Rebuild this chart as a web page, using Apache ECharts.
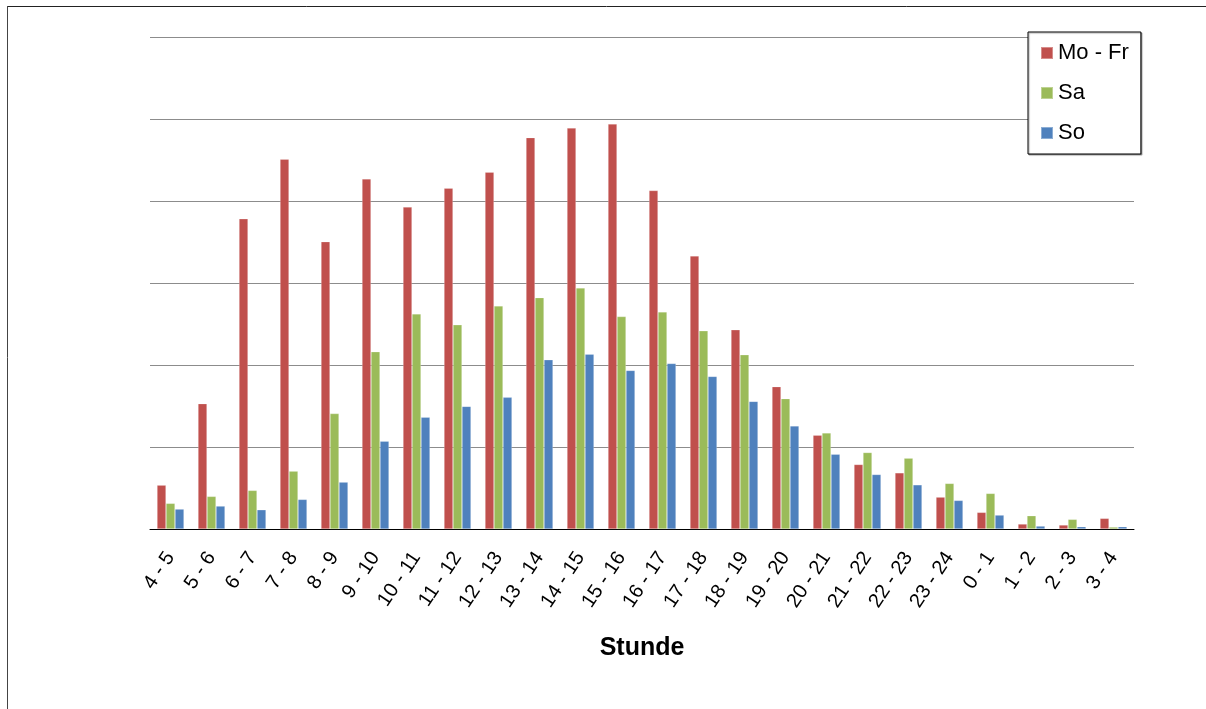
<!DOCTYPE html>
<html>
<head>
<meta charset="utf-8">
<script src="https://cdn.jsdelivr.net/npm/echarts@6/dist/echarts.min.js"></script>
<style>
html,body{margin:0;padding:0;background:#fff;}
#chart{width:1206px;height:709px;}
</style>
</head>
<body>
<div id="chart"></div>
<script>
const categories = ['4 - 5','5 - 6','6 - 7','7 - 8','8 - 9','9 - 10','10 - 11','11 - 12','12 - 13','13 - 14','14 - 15','15 - 16','16 - 17','17 - 18','18 - 19','19 - 20','20 - 21','21 - 22','22 - 23','23 - 24','0 - 1','1 - 2','2 - 3','3 - 4'];
const moFr = [5.35,15.29,37.83,45.1,35.04,42.7,39.26,41.57,43.52,47.73,48.9,49.39,41.28,33.3,24.29,17.36,11.44,7.87,6.85,3.89,2.03,0.61,0.49,1.30];
const sa   = [3.13,3.98,4.71,7.06,14.08,21.62,26.24,24.9,27.21,28.22,29.4,25.91,26.48,24.17,21.25,15.9,11.72,9.33,8.64,5.56,4.34,1.62,1.18,0.24];
const so   = [2.43,2.80,2.35,3.61,5.72,10.71,13.63,14.96,16.06,20.64,21.33,19.34,20.19,18.61,15.57,12.57,9.12,6.65,5.39,3.49,1.70,0.36,0.28,0.28];
const seriesNames = ['Mo - Fr','Sa','So'];
const xTitle = 'Stunde';

const chart = echarts.init(document.getElementById('chart'), null, {renderer:'canvas'});
const font = '"Liberation Sans", Arial, sans-serif';
const colors = ['#C0504D','#9BBB59','#4F81BD'];
const mkSeries = (name, data, color) => ({
  name, type:'bar', data, barWidth:9, barGap:'0%',
  itemStyle:{color, borderColor:'rgba(255,255,255,0.35)', borderWidth:0.6},
  emphasis:{disabled:true}, animation:false
});
chart.setOption({
  animation:false,
  textStyle:{fontFamily:font},
  grid:{left:150, right:72, top:37, bottom:180, containLabel:false},
  legend:{
    orient:'vertical', left:1028, top:32,
    padding:[10,12,10,12], itemGap:18, itemWidth:12, itemHeight:12,
    icon:'rect', borderColor:'#000', borderWidth:1, backgroundColor:'#fff',
    shadowColor:'rgba(0,0,0,0.35)', shadowOffsetX:1, shadowOffsetY:1, shadowBlur:1,
    textStyle:{fontSize:22, color:'#000', fontFamily:font},
    data:seriesNames
  },
  xAxis:{
    type:'category', data:categories,
    axisLine:{lineStyle:{color:'#000', width:1}},
    axisTick:{length:6, lineStyle:{color:'#000'}},
    axisLabel:{rotate:56, interval:0, fontSize:20, color:'#000', margin:25, fontFamily:font},
    name:xTitle, nameLocation:'middle', nameGap:119,
    nameTextStyle:{fontSize:25, fontWeight:'bold', color:'#000', verticalAlign:'middle', fontFamily:font}
  },
  yAxis:{
    type:'value', min:0, max:60, interval:10,
    axisLine:{show:false}, axisTick:{show:false}, axisLabel:{show:false},
    splitLine:{lineStyle:{color:'#8c8c8c', width:1}}
  },
  graphic:[
    {type:'line', shape:{x1:7, y1:6.5, x2:1206, y2:6.5}, style:{stroke:'#222', lineWidth:1}},
    {type:'line', shape:{x1:7.5, y1:6, x2:7.5, y2:709}, style:{stroke:'#444', lineWidth:1}}
  ],
  series:[
    mkSeries(seriesNames[0], moFr, colors[0]),
    mkSeries(seriesNames[1], sa, colors[1]),
    mkSeries(seriesNames[2], so, colors[2])
  ]
});
</script>
</body>
</html>
